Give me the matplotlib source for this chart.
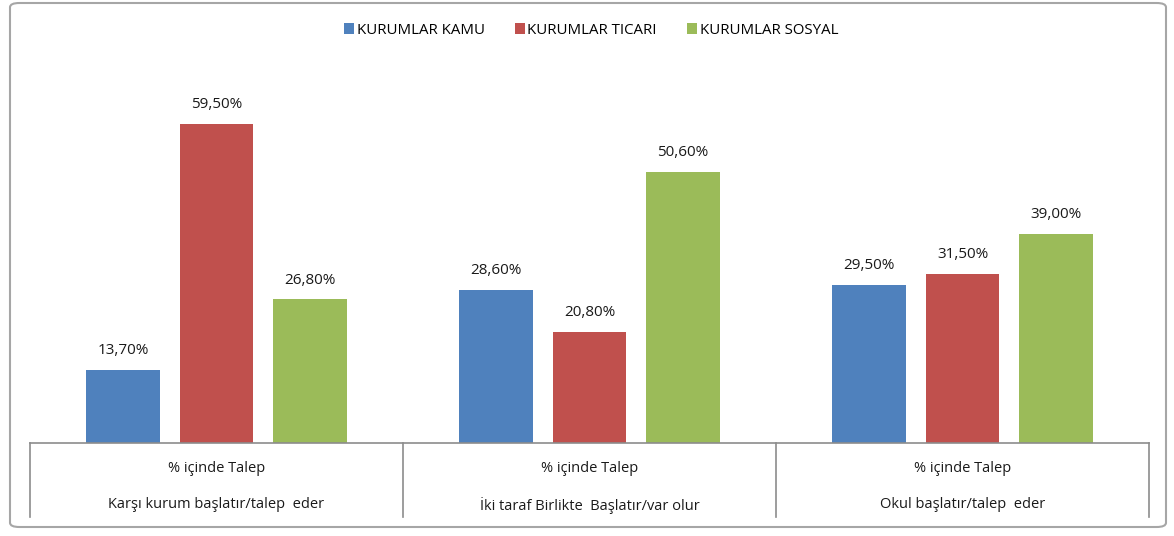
import matplotlib
matplotlib.use("Agg")
import matplotlib.pyplot as plt
from matplotlib.patches import FancyBboxPatch
from matplotlib.lines import Line2D
from matplotlib.transforms import blended_transform_factory
import numpy as np

plt.rcParams["font.family"] = ["Open Sans", "DejaVu Sans"]

# ---------------- data ----------------
row1_labels = ["% içinde Talep", "% içinde Talep", "% içinde Talep"]
row2_labels = ["Karşı kurum başlatır/talep  eder",
               "İki taraf Birlikte  Başlatır/var olur",
               "Okul başlatır/talep  eder"]
series_names = ["KURUMLAR KAMU", "KURUMLAR TICARI", "KURUMLAR SOSYAL"]
kamu = [13.7, 28.6, 29.5]
ticari = [59.5, 20.8, 31.5]
sosyal = [26.8, 50.6, 39.0]
colors = ["#4F81BD", "#C0504D", "#9BBB59"]

W, H = 1174, 536
fig = plt.figure(figsize=(W / 100, H / 100), dpi=100)
fig.patch.set_facecolor("white")

# chart frame (excel style, rounded) - kept behind the axes
frame = FancyBboxPatch((10 / W, 9 / H), 1156 / W, 524 / H,
                       boxstyle="round,pad=0,rounding_size=0.008",
                       transform=fig.transFigure, facecolor="white",
                       edgecolor="#a6a6a6", linewidth=1.5, zorder=-5)
fig.patches.append(frame)

# plot area in pixels: x 30..1149, baseline y=443, top y=68
ax = fig.add_axes([30 / W, (H - 443) / H, 1119 / W, (443 - 68) / H])
ax.set_facecolor("none")
ax.set_zorder(2)

x = np.arange(len(row1_labels))
bw = 0.198
step = 0.25
for i, (vals, c, name) in enumerate(zip([kamu, ticari, sosyal], colors, series_names)):
    bars = ax.bar(x + (i - 1) * step, vals, width=bw, color=c, label=name, zorder=2)
    for b, v in zip(bars, vals):
        ax.text(b.get_x() + b.get_width() / 2, v + 2.2, f"{v:.2f}%".replace(".", ","),
                ha="center", va="bottom", fontsize=11, color="#1a1a1a")

ax.set_xlim(-0.5, 2.5)
ax.set_ylim(0, 70)
ax.set_xticks([])
ax.set_yticks([])
for s in ["top", "right", "left"]:
    ax.spines[s].set_visible(False)
ax.spines["bottom"].set_color("#8c8c8c")
ax.spines["bottom"].set_linewidth(1.2)

# category table under the axis
tr = blended_transform_factory(ax.transData, fig.transFigure)
for xv in [-0.5, 0.5, 1.5, 2.5]:
    fig.lines.append(Line2D([xv, xv], [(H - 443) / H, (H - 517) / H], transform=tr,
                            color="#8c8c8c", linewidth=1.2))
for xi, (r1, r2) in enumerate(zip(row1_labels, row2_labels)):
    fig.text(xi, (H - 468) / H, r1, transform=tr, ha="center", va="center",
             fontsize=10.5, color="#1a1a1a")
    fig.text(xi, (H - 505) / H, r2, transform=tr, ha="center", va="center",
             fontsize=10.5, color="#1a1a1a")

fig.legend(loc="center", bbox_to_anchor=(591 / W, (H - 30) / H), ncol=3,
           frameon=False, fontsize=10.8, handlelength=0.7, handleheight=0.7,
           handletextpad=0.15, columnspacing=2.0)

fig.savefig("out.png", dpi=100)
